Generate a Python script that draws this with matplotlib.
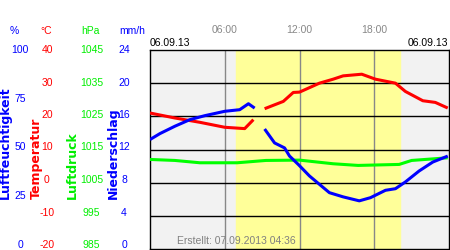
import numpy as np
import matplotlib
matplotlib.use('Agg')
import matplotlib.pyplot as plt
from matplotlib.transforms import blended_transform_factory

plt.rcParams['font.family'] = ['Liberation Sans', 'DejaVu Sans']

hours_temp = [0, 2, 4, 6, 7.6, 8.3, 8.7, 9.2, 10.7, 11.5, 12, 13.6, 14.7, 15.5, 17,
              18.1, 19.7, 20.5, 21.9, 22.9, 23.9]
temperature = [21, 19.5, 18.2, 16.7, 16.3, 19, np.nan, 22.3, 24.5, 27.2, 27.3, 30,
               31.2, 32.2, 32.7, 31.2, 30, 27.5, 24.7, 24.2, 22.5]

hours_hum = [0, 0.8, 2, 3.2, 4.4, 6, 7.2, 7.9, 8.4, 8.8, 9.2, 10, 10.8, 11.2, 11.9,
             12.8, 13.6, 14.4, 15.5, 16.8, 17.7, 18.9, 19.7, 20.5, 21.6, 22.7, 23.9]
humidity = [55, 58, 61.7, 65, 67, 69.2, 70, 73, 70.8, np.nan, 60.3, 53.3, 50.8, 46.7,
            42.5, 36.7, 32.5, 28.3, 26.2, 24.2, 25.8, 29.5, 30.3, 33.7, 39.2, 43.7, 46.7]

hours_pres = [0, 2, 4, 7, 9.3, 12, 14.7, 16.7, 20, 21, 23.9]
pressure = [1012, 1011.7, 1011, 1011, 1011.7, 1011.8, 1010.7, 1010.2, 1010.5, 1011.7, 1012.5]

hum_ticks = [100, 75, 50, 25, 0]
temp_ticks = [40, 30, 20, 10, 0, -10, -20]
pres_ticks = [1045, 1035, 1025, 1015, 1005, 995, 985]
rain_ticks = [24, 20, 16, 12, 8, 4, 0]
hour_ticks = [6, 12, 18]
hour_labels = ['06:00', '12:00', '18:00']
daylight = (6.9, 20.1)

W, H = 450, 250
fig = plt.figure(figsize=(4.5, 2.5), dpi=100)
ax = fig.add_axes([150 / W, 1 / H, 299 / W, 199 / H])
ax.set_xlim(0, 24)
ax.set_ylim(-20, 40)
ax.set_facecolor('#f2f2f2')
ax.axvspan(*daylight, color='#ffff99', zorder=0)
for h in hour_ticks:
    ax.axvline(h, color='#888888', lw=1, zorder=1)
for t in temp_ticks[1:-1]:
    ax.axhline(t, color='black', lw=1, zorder=1)
ax.set_xticks([])
ax.set_yticks([])
for s in ax.spines.values():
    s.set_linewidth(1)

ax_p = ax.twinx()
ax_p.set_ylim(985, 1045)
ax_h = ax.twinx()
ax_h.set_ylim(0, 100)
for a in (ax_p, ax_h):
    a.set_yticks([])
    a.axis('off')

ax_p.plot(hours_pres, pressure, color='#00ff00', lw=2.2, solid_capstyle='butt')
ax.plot(hours_temp, temperature, color='#ff0000', lw=2.2, solid_capstyle='butt', zorder=3)
ax_h.plot(hours_hum, humidity, color='#0000ff', lw=2.2, solid_capstyle='butt')


def fx(px):
    return px / W


def fy(py):
    return 1 - py / H


fs = 7.5
# the left-hand scales run from y=50 px (top) to y=245 px (bottom)
lab_ax = fig.add_axes([0, fy(245), 1, (245 - 50) / H])
lab_ax.axis('off')
lab_ax.set_xlim(0, W)
lab_ax.set_ylim(0, 1)
for v in hum_ticks:
    lab_ax.text(20, v / 100, str(v), color='#0000ff', fontsize=fs,
                ha='center', va='center')
for v in temp_ticks:
    lab_ax.text(47, (v + 20) / 60, str(v), color='#ff0000', fontsize=fs,
                ha='center', va='center')
for v in pres_ticks:
    lab_ax.text(91.5, (v - 985) / 60, str(v), color='#00ee00', fontsize=fs,
                ha='center', va='center')
for v in rain_ticks:
    lab_ax.text(124, v / 24, str(v), color='#0000ff', fontsize=fs,
                ha='center', va='center')

# units
fig.text(fx(14), fy(31), '%', color='#0000ff', fontsize=fs, ha='center', va='center')
fig.text(fx(46), fy(31), '°C', color='#ff0000', fontsize=fs, ha='center', va='center')
fig.text(fx(90), fy(31), 'hPa', color='#00ee00', fontsize=fs, ha='center', va='center')
fig.text(fx(132), fy(31), 'mm/h', color='#0000ff', fontsize=fs, ha='center', va='center')

# rotated axis names
for x, name, c in [(5.5, 'Luftfeuchtigkeit', '#0000ff'), (36, 'Temperatur', '#ff0000'),
                   (72.5, 'Luftdruck', '#00ee00'), (113, 'Niederschlag', '#0000ff')]:
    fig.text(fx(x), fy(199), name, color=c, fontsize=9, fontweight='bold',
             family='DejaVu Sans', rotation=90, ha='center', va='bottom')

# hour labels above the plot
trx = blended_transform_factory(ax.transData, fig.transFigure)
for h, lab in zip(hour_ticks, hour_labels):
    fig.text(h, fy(30), lab, transform=trx, color='#888888', fontsize=fs,
             ha='center', va='center')

fig.text(fx(150), fy(43), '06.09.13', color='black', fontsize=fs, ha='left', va='center')
fig.text(fx(448), fy(43), '06.09.13', color='black', fontsize=fs, ha='right', va='center')
fig.text(fx(236), fy(241), 'Erstellt: 07.09.2013 04:36', color='#808080', fontsize=fs,
         ha='center', va='center')

fig.savefig('out.png', dpi=100)
